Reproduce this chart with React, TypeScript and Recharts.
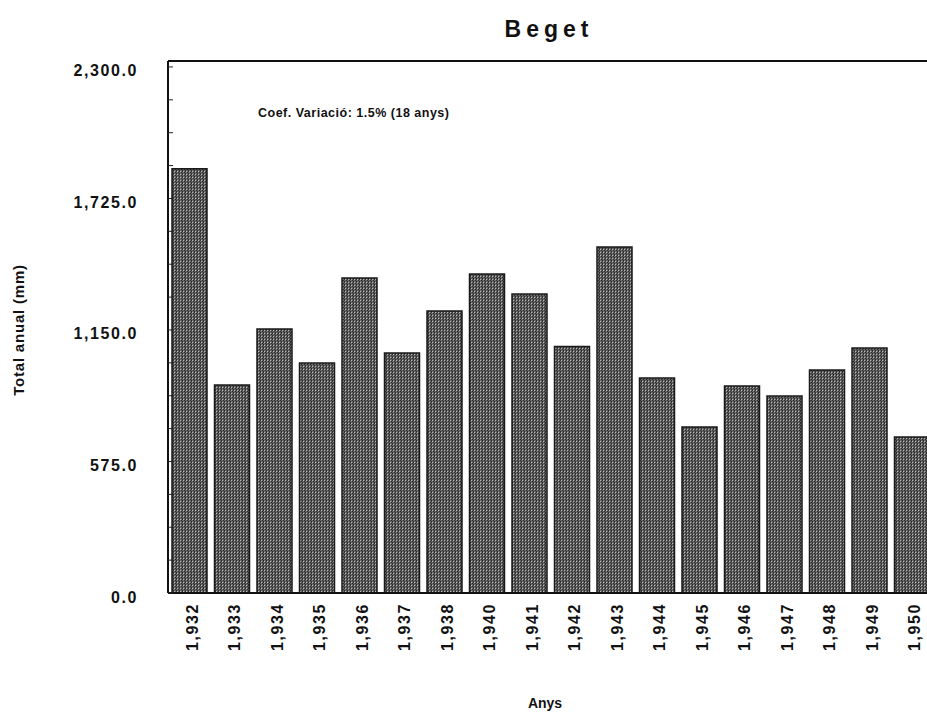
import React from "react";
import { Bar, BarChart, ReferenceLine, XAxis, YAxis } from "recharts";

const YEARS = [1932, 1933, 1934, 1935, 1936, 1937, 1938, 1940, 1941, 1942, 1943, 1944, 1945, 1946, 1947, 1948, 1949, 1950];
const TOTALS = [1855, 909, 1154, 1006, 1377, 1049, 1233, 1395, 1307, 1078, 1513, 940, 726, 905, 861, 975, 1071, 682];
const MAJOR_TICKS = [0, 575, 1150, 1725, 2300];
const MINOR_TICKS = [143.75, 287.5, 431.25, 718.75, 862.5, 1006.25, 1293.75, 1437.5, 1581.25, 1868.75, 2012.5, 2156.25];
const Y_TOP = 2326;

const data = YEARS.map((year, i) => ({ year, total: TOTALS[i] }));
const allTicks = [...MAJOR_TICKS, ...MINOR_TICKS].sort((a, b) => a - b);

const FONT = '"Liberation Sans", Arial, Helvetica, sans-serif';
const PLOT_LEFT = 168;
const PLOT_BOTTOM = 593;

const fmtY = (v: number) =>
  v.toLocaleString("en-US", { minimumFractionDigits: 1, maximumFractionDigits: 1 });

function YTick(props: any) {
  const { y, payload } = props;
  const major = MAJOR_TICKS.includes(payload.value);
  return (
    <g>
      <line x1={PLOT_LEFT} x2={PLOT_LEFT + 5} y1={y} y2={y} stroke="#222" strokeWidth={1} />
      {major && (
        <text
          x={138}
          y={y + 4}
          textAnchor="end"
          dominantBaseline="central"
          fontFamily={FONT}
          fontWeight="bold"
          fontSize={16}
          letterSpacing={1.6}
          fill="#111"
        >
          {fmtY(payload.value)}
        </text>
      )}
    </g>
  );
}

function XTick(props: any) {
  const { x, payload } = props;
  const y = PLOT_BOTTOM + 10;
  return (
    <text
      transform={`translate(${x + 3},${y}) rotate(-90)`}
      textAnchor="end"
      dominantBaseline="central"
      fontFamily={FONT}
      fontWeight="bold"
      fontSize={16}
      letterSpacing={1.6}
      fill="#111"
    >
      {Number(payload.value).toLocaleString("en-US")}
    </text>
  );
}

export default function App() {
  return (
    <div
      style={{
        position: "absolute",
        left: 0,
        top: 0,
        width: 927,
        height: 715,
        overflow: "hidden",
        background: "#fff",
        fontFamily: FONT,
      }}
    >
      <div
        style={{
          position: "absolute",
          left: 449,
          width: 200,
          top: 16,
          textAlign: "center",
          fontSize: 23,
          fontWeight: "bold",
          letterSpacing: 5,
          color: "#111",
        }}
      >
        Beget
      </div>
      <div
        style={{
          position: "absolute",
          left: 258,
          top: 106,
          fontSize: 12.5,
          fontWeight: "bold",
          letterSpacing: 0.5,
          color: "#111",
          zIndex: 2,
        }}
      >
        Coef. Variació: 1.5% (18 anys)
      </div>
      <div
        style={{
          position: "absolute",
          left: 18,
          top: 330,
          transform: "translate(-50%, -50%) rotate(-90deg)",
          whiteSpace: "nowrap",
          fontSize: 15,
          fontWeight: "bold",
          letterSpacing: 0.8,
          color: "#111",
        }}
      >
        Total anual (mm)
      </div>
      <div
        style={{
          position: "absolute",
          left: 495,
          width: 100,
          top: 695,
          textAlign: "center",
          fontSize: 14,
          fontWeight: "bold",
          color: "#111",
        }}
      >
        Anys
      </div>
      <BarChart
        width={940}
        height={715}
        data={data}
        margin={{ top: 61, right: 7, bottom: 0, left: 0 }}
      >
        <defs>
          <pattern id="stipple" width="3" height="3" patternUnits="userSpaceOnUse">
            <rect width="3" height="3" fill="#666" />
            <rect x="0" y="0" width="1" height="1" fill="#bbb" />
            <rect x="1" y="1" width="1" height="1" fill="#2a2a2a" />
            <rect x="2" y="2" width="1" height="1" fill="#2a2a2a" />
            <rect x="2" y="0" width="1" height="1" fill="#333" />
          </pattern>
        </defs>
        <XAxis
          dataKey="year"
          interval={0}
          height={122}
          tickLine={false}
          axisLine={{ stroke: "#111", strokeWidth: 2 }}
          tick={<XTick />}
        />
        <YAxis
          width={168}
          domain={[0, Y_TOP]}
          ticks={allTicks}
          interval={0}
          tickLine={false}
          axisLine={{ stroke: "#111", strokeWidth: 2 }}
          tick={<YTick />}
        />
        <ReferenceLine y={Y_TOP} stroke="#111" strokeWidth={2} />
        <Bar
          dataKey="total"
          barSize={35}
          fill="url(#stipple)"
          stroke="#1a1a1a"
          strokeWidth={1.5}
          isAnimationActive={false}
        />
      </BarChart>
    </div>
  );
}
